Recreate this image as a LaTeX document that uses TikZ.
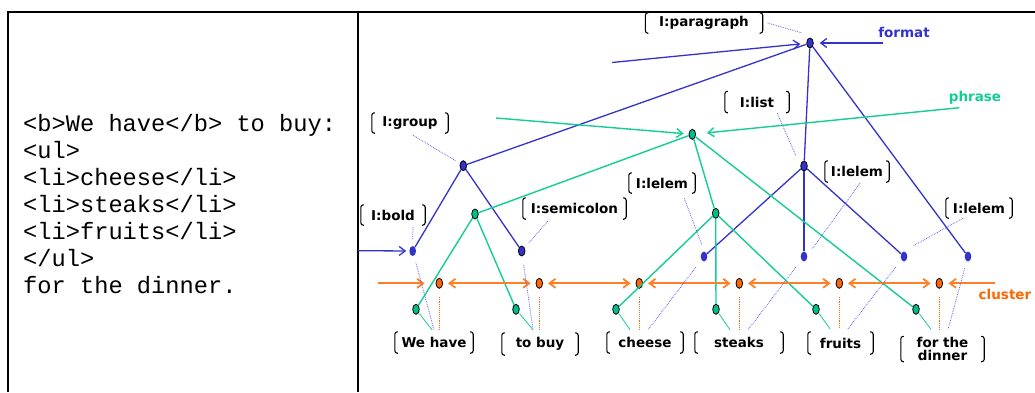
\documentclass[tikz,border=0pt]{standalone}
\usepackage{fontspec}
\usetikzlibrary{arrows.meta,shapes.geometric,calc}
\newfontfamily\lfont{DejaVu Sans}
\newfontfamily\mfont{Liberation Mono}
\definecolor{tblue}{RGB}{51,51,204}
\definecolor{tgreen}{RGB}{20,204,150}
\definecolor{tgreenfill}{RGB}{0,190,140}
\definecolor{torange}{RGB}{255,102,0}
\definecolor{tarrow}{RGB}{255,127,39}
\definecolor{tdot}{RGB}{100,100,230}
\newcommand\brackets[1]{%
  \draw[brk] ([xshift=3pt]#1.north west) -| (#1.south west) -- ([xshift=3pt]#1.south west);
  \draw[brk] ([xshift=-3pt]#1.north east) -| (#1.south east) -- ([xshift=-3pt]#1.south east);}
\tikzset{
  dotn/.style={ellipse, minimum width=6.6pt, minimum height=10pt, inner sep=0pt},
  bnode/.style={dotn, draw=black, line width=0.8pt, fill=tblue},
  bleaf/.style={dotn, fill=tblue},
  gnode/.style={dotn, draw=black, line width=0.8pt, fill=tgreenfill},
  onode/.style={dotn, draw=black, line width=0.8pt, fill=torange},
  lab/.style={font=\lfont\bfseries\fontsize{13.5}{14.5}\selectfont, inner sep=0pt, align=center},
  mono/.style={font=\mfont\fontsize{23.7}{27}\selectfont, inner sep=0pt, anchor=base west},
  brk/.style={draw=black, line width=1.1pt, rounded corners=2.5pt},
  bedge/.style={draw=tblue, line width=1.3pt},
  gedge/.style={draw=tgreen, line width=1.4pt},
  barb/.style={-{Straight Barb[length=6pt,width=9pt]}},
  barr/.style={bedge, barb},
  garr/.style={gedge, barb},
  oarr/.style={draw=tarrow, line width=1.8pt, barb},
  oarrb/.style={draw=tarrow, line width=1.8pt, {Straight Barb[length=6pt,width=9pt]}-{Straight Barb[length=6pt,width=9pt]}, shorten <=5pt, shorten >=5pt},
  ldot/.style={draw=tdot, line width=0.8pt, densely dotted},
  gthin/.style={draw=tgreen, line width=0.8pt},
  odot/.style={draw=torange, line width=0.9pt, densely dotted}
}
\begin{document}
\begin{tikzpicture}[x=1pt,y=-1pt]
\useasboundingbox (0,0) rectangle (1035,392);
% frame
\draw[line width=2pt] (8,392) -- (8,12) -- (1035,12);
\draw[line width=2pt] (358,12) -- (358,392);
% left text
\node[mono] (t1) at (23,131) {<b>We have</b> to buy:};
\node[mono] (t2) at (23,158) {<ul>};
\node[mono] (t3) at (23,185) {<li>cheese</li>};
\node[mono] (t4) at (23,212) {<li>steaks</li>};
\node[mono] (t5) at (23,239) {<li>fruits</li>};
\node[mono] (t6) at (23,266) {</ul>};
\node[mono] (t7) at (23,293) {for the dinner.};
% tree nodes
\node[bnode] (P) at (810,43) {};
\node[bnode] (G) at (463.3,165.7) {};
\node[bnode] (L) at (804,166) {};
\node[bnode] (S) at (521.7,251) {};
\node[bleaf] (B) at (412.7,251) {};
\node[bleaf] (E1) at (704,256.5) {};
\node[bleaf] (E2) at (804,256.5) {};
\node[bleaf] (E3) at (904,256.5) {};
\node[bleaf] (E4) at (968,256.5) {};
\node[gnode] (Ph) at (692.3,134.3) {};
\node[gnode] (Q1) at (475,214) {};
\node[gnode] (Q2) at (715.7,213.3) {};
\foreach \i/\x in {1/416,2/516,3/616,4/716,5/816,6/916}
  \node[gnode] (W\i) at (\x,309.3) {};
\foreach \i/\x in {1/439.3,2/539.3,3/639.3,4/739.3,5/839.3,6/939.3}
  \node[onode] (O\i) at (\x,283.3) {};
% labels
\node[lab, minimum width=117pt, minimum height=20pt] (lpar) at (704,23) {I:paragraph};
\node[lab, minimum width=76pt, minimum height=20pt] (lgrp) at (410,123) {I:group};
\node[lab, minimum width=64pt, minimum height=21pt] (llist) at (757,102) {I:list};
\node[lab, minimum width=64pt, minimum height=21pt] (llel2) at (857,171.5) {I:lelem};
\node[lab, minimum width=66pt, minimum height=20pt] (llel1) at (662,183) {I:lelem};
\node[lab, minimum width=103pt, minimum height=21pt] (lsemi) at (574.5,208.5) {I:semicolon};
\node[lab, minimum width=64pt, minimum height=20pt] (lbold) at (393,215) {I:bold};
\node[lab, minimum width=66pt, minimum height=20pt] (llel3) at (979,208) {I:lelem};
\node[lab, minimum width=78pt, minimum height=21pt] (wehave) at (434,342.5) {We have};
\node[lab, minimum width=76pt, minimum height=22pt] (tobuy) at (540,344) {to buy};
\node[lab, minimum width=76pt, minimum height=21pt] (cheese) at (645,342.5) {cheese};
\node[lab, minimum width=88pt, minimum height=21pt] (steaks) at (739,342.5) {steaks};
\node[lab, minimum width=65pt, minimum height=22pt] (fruits) at (840.5,343) {fruits};
\node[lab, minimum width=83pt, minimum height=25pt] (dinner) at (942.5,349) {for the\\[-1pt]dinner};
\foreach \n in {lpar,lgrp,llist,llel2,llel1,lsemi,lbold,llel3,wehave,tobuy,cheese,steaks,fruits,dinner}
  {\brackets{\n}}
\node[lab, text=tblue, anchor=base] (fmt) at (904,37.5) {format};
\node[lab, text=tgreen, anchor=base] (phr) at (975,101) {phrase};
\node[lab, text=torange, anchor=base] (clu) at (1005,299) {cluster};
% tree edges
\draw[bedge] (P) -- (G);
\draw[bedge] (P) -- (L);
\draw[bedge] (P) -- (E4);
\draw[bedge] (G) -- (B);
\draw[bedge] (G) -- (S);
\draw[bedge] (L) -- (E1);
\draw[bedge] (L) -- (E2);
\draw[bedge] (L) -- (E3);
\draw[gedge] (Ph) -- (Q1);
\draw[gedge] (Ph) -- (Q2);
\draw[gedge] (Ph) -- (W6);
\draw[gedge] (Q1) -- (W1);
\draw[gedge] (Q1) -- (W2);
\draw[gedge] (Q2) -- (W3);
\draw[gedge] (Q2) -- (W4);
\draw[gedge] (Q2) -- (W5);
% input arrows
\coordinate (pin1) at (612,62.5);
\coordinate (pin2) at (883,43);
\coordinate (bin) at (358,250.7);
\coordinate (phin1) at (496,118);
\coordinate (phin2) at (959.3,107.7);
\coordinate (oin1) at (378,283.3);
\coordinate (oin2) at (995,283.3);
\draw[barr, shorten >=6pt] (pin1) -- (P);
\draw[barr, shorten >=6pt] (pin2) -- (P);
\draw[barr, shorten >=3pt] (bin) -- (B);
\draw[garr, shorten >=5pt] (phin1) -- (Ph);
\draw[garr, shorten >=11pt] (phin2) -- (Ph);
\draw[oarr, shorten >=11pt] (oin1) -- (O1);
\draw[oarr, shorten >=5.5pt] (oin2) -- (O6);
\draw[oarrb] (O1) -- (O2);
\draw[oarrb] (O2) -- (O3);
\draw[oarrb] (O3) -- (O4);
\draw[oarrb] (O4) -- (O5);
\draw[oarrb] (O5) -- (O6);
% label connectors
\draw[ldot] ([shift={(5,0)}]lpar.east) -- ([shift={(-8,-10)}]P.center);
\draw[ldot] ([shift={(3,2)}]lgrp.south) -- ([shift={(-8,-5)}]G.center);
\draw[ldot] ([shift={(-12,0.5)}]llist.south east) -- ([shift={(-8,-10)}]L.center);
\draw[ldot] ([shift={(3,1)}]llel2.south) -- ([shift={(8,-7.5)}]E2.center);
\draw[ldot] ([shift={(-11,5)}]llel1.south east) -- ([shift={(-2,-11.5)}]E1.center);
\draw[ldot] ([shift={(25,2)}]lsemi.south west) -- ([shift={(7,-8)}]S.center);
\draw[ldot] ([shift={(20,2)}]lbold.south) -- ([shift={(0,-11)}]B.center);
\draw[ldot] ([shift={(-16,0)}]llel3.south) -- ([shift={(9,-10.5)}]E3.center);
% connectors to words
\draw[ldot, shorten <=7pt] (B) -- ([shift={(0,-2)}]wehave.north);
\draw[ldot, shorten <=9pt] (S) -- ([shift={(-7,-3)}]tobuy.north);
\draw[ldot, shorten <=9pt] (E1) -- ([shift={(3,-2)}]cheese.north);
\draw[ldot, shorten <=9pt] (E2) -- ([shift={(9,-2)}]steaks.north);
\draw[ldot, shorten <=9pt] (E3) -- ([shift={(7.5,-3)}]fruits.north);
\draw[ldot, shorten <=7pt] (E4) -- ([shift={(5.5,-7)}]dinner.north);
\draw[gthin, shorten <=1pt] (W1) -- ([shift={(-2,-2)}]wehave.north);
\draw[gthin, shorten <=1pt] (W2) -- ([shift={(-7,-3)}]tobuy.north);
\draw[gthin, shorten <=1pt] (W3) -- ([shift={(-15,-2)}]cheese.north);
\draw[gthin, shorten <=1pt] (W4) -- ([shift={(-9,-2)}]steaks.north);
\draw[gthin, shorten <=1pt] (W5) -- ([shift={(-10.5,-3)}]fruits.north);
\draw[gthin, shorten <=1pt] (W6) -- ([shift={(-11.5,-7)}]dinner.north);
\draw[odot, shorten <=8pt] (O1) -- ($(O1 |- wehave.north)+(0,-2)$);
\draw[odot, shorten <=8pt] (O2) -- ($(O2 |- tobuy.north)+(0,-3)$);
\draw[odot, shorten <=8pt] (O3) -- ($(O3 |- cheese.north)+(0,-2)$);
\draw[odot, shorten <=8pt] (O4) -- ($(O4 |- steaks.north)+(0,-2)$);
\draw[odot, shorten <=8pt] (O5) -- ($(O5 |- fruits.north)+(0,-3)$);
\draw[odot, shorten <=8pt] (O6) -- ($(O6 |- dinner.north)+(0,-7)$);
\end{tikzpicture}
\end{document}
